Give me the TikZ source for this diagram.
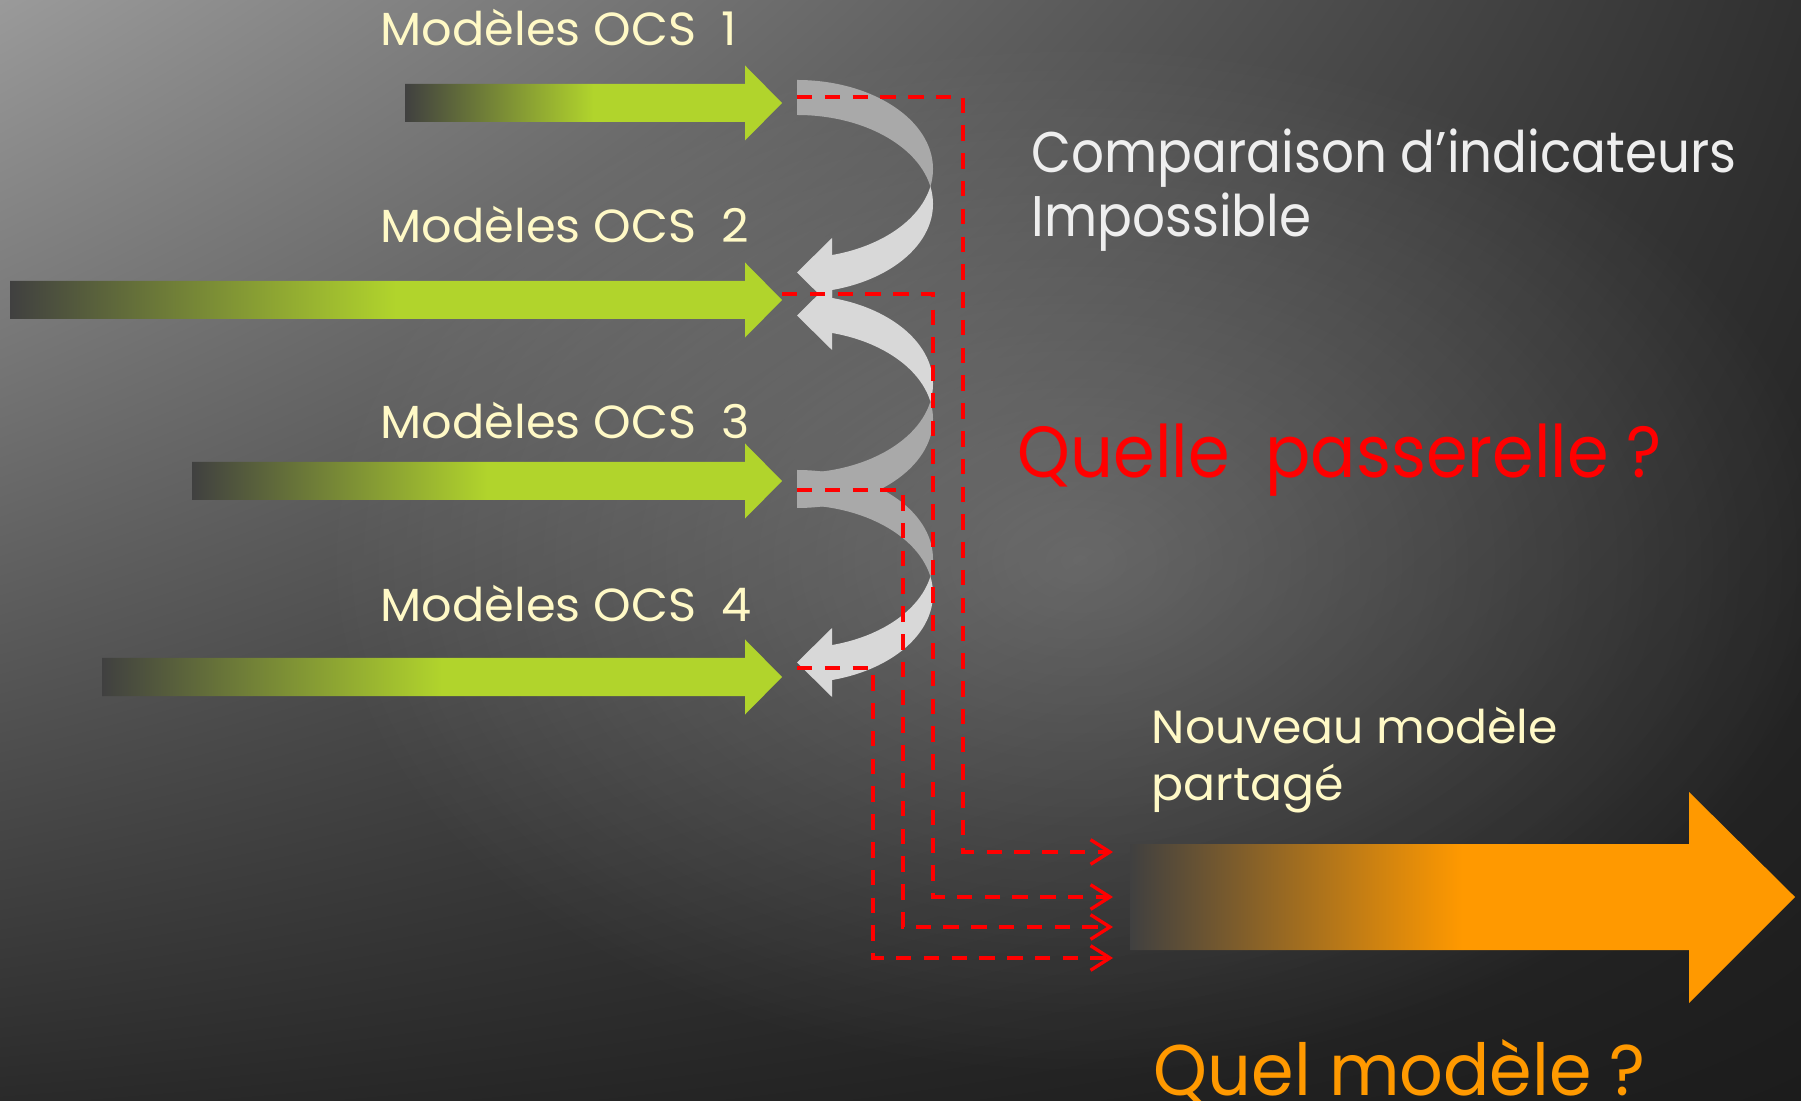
\documentclass[tikz,border=0pt]{standalone}
\usepackage{fontspec}
\setmainfont{Poppins}
\usepackage{xcolor}
\usetikzlibrary{arrows.meta,fadings,shadings}
\definecolor{ocsgreen}{HTML}{B1D42C}
\definecolor{fadedark}{HTML}{404040}
\definecolor{newmodel}{HTML}{FF9900}
\definecolor{labelcream}{HTML}{FFF9C6}
\definecolor{notegray}{HTML}{EEEEEE}
\definecolor{curvedark}{HTML}{A9A9A9}
\definecolor{curvelight}{HTML}{D8D8D8}
\definecolor{bgtl}{HTML}{9A9A9A}
\definecolor{bgtr}{HTML}{303030}
\definecolor{bgbl}{HTML}{2A2A2A}
\definecolor{bgbr}{HTML}{1C1C1C}
\pgfdeclarehorizontalshading{ocsfade}{100bp}{color(0bp)=(fadedark); color(25bp)=(fadedark); color(50bp)=(ocsgreen); color(100bp)=(ocsgreen)}
\pgfdeclarehorizontalshading{newfade}{100bp}{color(0bp)=(fadedark); color(25bp)=(fadedark); color(50bp)=(newmodel); color(100bp)=(newmodel)}
\tikzfading[name=glowfade, inner color=transparent!0, outer color=transparent!100]
\tikzset{
  ocsarrow/.style={shading=ocsfade},
  ocslabel/.style={anchor=base west, inner sep=0pt, text=labelcream, font=\fontsize{13.2pt}{15pt}\selectfont\addfontfeature{FakeStretch=1.03}},
  newlabel/.style={anchor=base west, inner sep=0pt, text=labelcream, font=\fontsize{13.2pt}{15pt}\selectfont\addfontfeature{FakeStretch=1.02}},
  notetext/.style={anchor=base west, inner sep=0pt, text=notegray, font=\fontsize{16.3pt}{19pt}\selectfont\addfontfeature{FakeStretch=0.9}},
  bridgetext/.style={anchor=base west, inner sep=0pt, text=red, font=\fontsize{20.6pt}{24pt}\selectfont\addfontfeature{FakeStretch=0.926}},
  whichtext/.style={anchor=base west, inner sep=0pt, text=newmodel, font=\fontsize{20.4pt}{24pt}\selectfont\addfontfeature{FakeStretch=0.955}},
  passdash/.style={draw=red, line width=0.95pt, dash pattern=on 4.4pt off 3.5pt, -{Straight Barb[length=5.5pt,width=7pt]}}
}

\begin{document}
\begin{tikzpicture}[x=0.01cm, y=-0.01cm]%
\useasboundingbox (0,0) rectangle (1801,1101);%
\clip (0,0) rectangle (1801,1101);%
% background
\shade[upper left=bgtl, upper right=bgtr, lower left=bgbl, lower right=bgbr] (0,0) rectangle (1801,1101);%
\fill[white, fill opacity=0.22, path fading=glowfade] (1080,560) ellipse [x radius=760, y radius=520];%
% input models
\shade[ocsarrow] (405,84) -- (745,84) -- (745,65.5) -- (782,103) -- (745,140.5) -- (745,122) -- (405,122) -- cycle;%
\shade[ocsarrow] (10,281) -- (745,281) -- (745,262.5) -- (782,300) -- (745,337.5) -- (745,319) -- (10,319) -- cycle;%
\shade[ocsarrow] (192,462) -- (745,462) -- (745,443.5) -- (782,481) -- (745,518.5) -- (745,500) -- (192,500) -- cycle;%
\shade[ocsarrow] (102,658) -- (745,658) -- (745,639.5) -- (782,677) -- (745,714.5) -- (745,696) -- (102,696) -- cycle;%
% curved arrows 1 -> 2
\begin{scope}
\clip (797,60) rectangle (945,186.5);
\fill[curvedark, even odd rule] (797,169) ellipse [x radius=136, y radius=89] (797,204) ellipse [x radius=136, y radius=89];
\end{scope}
\begin{scope}
\clip (832,186.5) rectangle (945,310);
\fill[curvelight, even odd rule] (797,169) ellipse [x radius=136, y radius=89] (797,204) ellipse [x radius=136, y radius=89];
\end{scope}
\fill[curvelight] (832,238) -- (797,272.5) -- (832,307) -- cycle;%
% curved arrows 3 -> 2
\begin{scope}
\clip (797,401.5) rectangle (945,520);
\fill[curvedark, even odd rule] (797,419) ellipse [x radius=136, y radius=89] (797,384) ellipse [x radius=136, y radius=89];
\end{scope}
\begin{scope}
\clip (832,280) rectangle (945,401.5);
\fill[curvelight, even odd rule] (797,419) ellipse [x radius=136, y radius=89] (797,384) ellipse [x radius=136, y radius=89];
\end{scope}
\fill[curvelight] (832,281) -- (797,315.5) -- (832,350) -- cycle;%
% curved arrows 3 -> 4
\begin{scope}
\clip (797,455) rectangle (945,576.5);
\fill[curvedark, even odd rule] (797,559) ellipse [x radius=136, y radius=89] (797,594) ellipse [x radius=136, y radius=89];
\end{scope}
\begin{scope}
\clip (832,576.5) rectangle (945,710);
\fill[curvelight, even odd rule] (797,559) ellipse [x radius=136, y radius=89] (797,594) ellipse [x radius=136, y radius=89];
\end{scope}
\fill[curvelight] (832,628) -- (797,662.5) -- (832,697) -- cycle;%
% shared model
\shade[shading=newfade] (1130,844) -- (1689,844) -- (1689,792) -- (1795,897) -- (1689,1003) -- (1689,950) -- (1130,950) -- cycle;%
% red links
\coordinate (src1) at (797,97);%
\coordinate (src2) at (782,294);%
\coordinate (src3) at (797,490);%
\coordinate (src4) at (797,668);%
\coordinate (bend1) at (963,852);%
\coordinate (bend2) at (933,897);%
\coordinate (bend3) at (903,927);%
\coordinate (bend4) at (873,958);%
\coordinate (dst1) at (1113,852);%
\coordinate (dst2) at (1113,897);%
\coordinate (dst3) at (1113,927);%
\coordinate (dst4) at (1113,958);%
\draw[passdash] (src1) -| (bend1) -- (dst1);%
\draw[passdash] (src2) -| (bend2) -- (dst2);%
\draw[passdash] (src3) -| (bend3) -- (dst3);%
\draw[passdash] (src4) -| (bend4) -- (dst4);%
% texts
\node[ocslabel] (lab1) at (380,46) {Modèles OCS~~1};%
\node[ocslabel] (lab2) at (380,243) {Modèles OCS~~2};%
\node[ocslabel] (lab3) at (380,439) {Modèles OCS~~3};%
\node[ocslabel] (lab4) at (380,622) {Modèles OCS~~4};%
\node[notetext] (cmp1) at (1031,173) {Comparaison d’indicateurs};%
\node[notetext] (cmp2) at (1031,237) {Impossible};%
\node[bridgetext] (bridge) at (1017,478) {Quelle~~passerelle ?};%
\node[newlabel] (new1) at (1151,743) {Nouveau modèle};%
\node[newlabel] (new2) at (1151,800) {partagé};%
\node[whichtext] (which) at (1153,1095) {Quel modèle ?};%
\end{tikzpicture}
\end{document}
